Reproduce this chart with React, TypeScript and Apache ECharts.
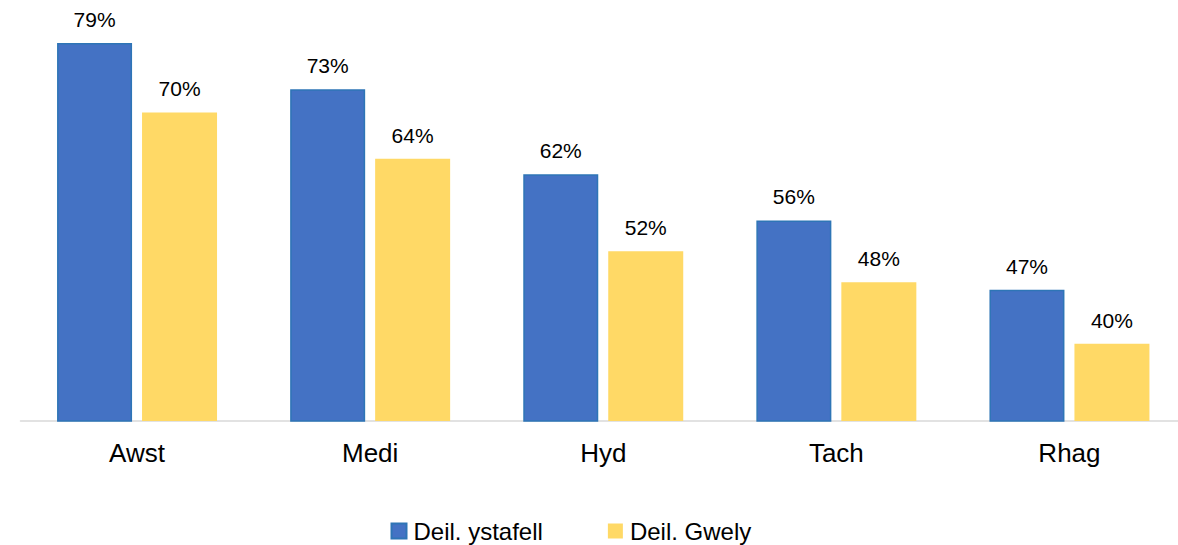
import React, { useEffect, useRef } from "react";
import * as echarts from "echarts";

const categories = ["Awst", "Medi", "Hyd", "Tach", "Rhag"];
const seriesNames = ["Deil. ystafell", "Deil. Gwely"];
const roomShare = [79, 73, 62, 56, 47];
const bedShare = [70, 64, 52, 48, 40];

export default function App() {
  const ref = useRef<HTMLDivElement>(null);
  useEffect(() => {
    if (!ref.current) return;
    const chart = echarts.init(ref.current, null, { renderer: "svg" });
    const font = "Liberation Sans, Arial, sans-serif";
    const label = {
      show: true,
      position: "top",
      distance: 13,
      formatter: "{c}%",
      color: "#000",
      fontSize: 21,
      fontFamily: font,
    };
    chart.setOption({
      animation: false,
      backgroundColor: "#fff",
      grid: { left: 20.5, right: 0, top: 35.3, bottom: 124 },
      legend: {
        left: 390.5,
        top: 519,
        padding: 0,
        itemWidth: 15,
        itemHeight: 15,
        itemGap: 65,
        icon: "rect",
        textStyle: { fontSize: 24, fontFamily: font, color: "#000", padding: [0, 0, 0, 2] },
        data: seriesNames,
      },
      xAxis: {
        type: "category",
        data: categories,
        axisLine: { show: true, lineStyle: { color: "#D9D9D9", width: 1.5 } },
        axisTick: { show: false },
        axisLabel: { fontSize: 26, fontFamily: font, color: "#000", margin: 19 },
      },
      yAxis: {
        type: "value",
        min: 30,
        max: 80,
        show: false,
        splitLine: { show: false },
      },
      series: [
        {
          name: seriesNames[0],
          type: "bar",
          data: roomShare,
          barWidth: 75,
          barGap: "13.3%",
          itemStyle: { color: "#4472C4", borderColor: "#2E75B6", borderWidth: 1.5 },
          label,
        },
        {
          name: seriesNames[1],
          type: "bar",
          data: bedShare,
          barWidth: 75,
          itemStyle: { color: "#FFD966" },
          label,
        },
      ],
    });
    return () => chart.dispose();
  }, []);
  return (
    <div
      style={{
        position: "absolute",
        left: 0,
        top: 0,
        width: 1178,
        height: 545,
        overflow: "hidden",
      }}
    >
      <div ref={ref} style={{ width: 1186, height: 545 }} />
    </div>
  );
}
